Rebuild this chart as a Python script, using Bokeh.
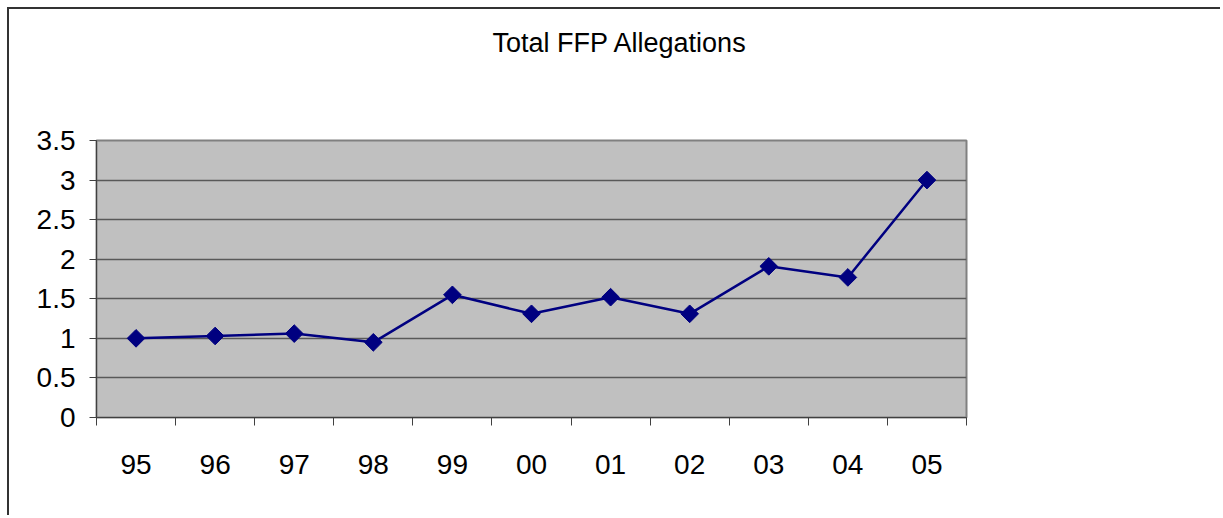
from bokeh.plotting import figure
from bokeh.models import FixedTicker, Title
from bokeh.embed import file_html
from bokeh.resources import INLINE

years = ["95", "96", "97", "98", "99", "00", "01", "02", "03", "04", "05"]
allegations = [1.0, 1.03, 1.06, 0.95, 1.55, 1.31, 1.52, 1.31, 1.91, 1.77, 3.0]
y_ticks = [0, 0.5, 1, 1.5, 2, 2.5, 3, 3.5]
title_text = "Total FFP Allegations"

xs = list(range(len(years)))
FONT = "Liberation Sans"

p = figure(width=1213, height=508, output_backend="svg", toolbar_location=None,
           x_range=(-0.5, len(years) - 0.5), y_range=(0, 3.5),
           min_border_left=87, min_border_right=256, min_border_top=131, min_border_bottom=100,
           title=title_text)
p.styles = {"border-left": "2px solid #333333", "border-top": "2px solid #333333",
            "margin-left": "7px", "margin-top": "7px"}

p.title.align = "left"
p.title.offset = 396
p.title.standoff = 10
p.title.vertical_align = "top"
p.title.text_font = FONT
p.title.text_font_size = "27px"
p.title.text_font_style = "normal"
p.title.text_color = "black"

# blank spacer between the title and the plot area
p.add_layout(Title(text="\u00a0", standoff=44, text_font=FONT, text_font_size="27px"), "above")

p.background_fill_color = "#C0C0C0"
p.border_fill_color = "white"
p.outline_line_color = "#808080"
p.outline_line_width = 2

# x axis: labels at centers, ticks at category boundaries
p.xaxis.ticker = FixedTicker(ticks=xs, minor_ticks=[i - 0.5 for i in range(len(years) + 1)])
p.xaxis.major_label_overrides = {i: y for i, y in enumerate(years)}
p.xaxis.major_tick_out = 0
p.xaxis.major_tick_in = 0
p.xaxis.minor_tick_out = 8
p.xaxis.minor_tick_in = 0
p.xaxis.minor_tick_line_color = "#404040"
p.xaxis.axis_line_color = "#404040"
p.xaxis.major_label_standoff = 29
p.xaxis.major_label_text_font = FONT
p.xaxis.major_label_text_font_size = "28px"
p.xaxis.major_label_text_color = "black"

p.yaxis.ticker = FixedTicker(ticks=y_ticks)
p.yaxis.minor_tick_line_color = None
p.yaxis.major_tick_out = 7
p.yaxis.major_tick_in = 0
p.yaxis.major_tick_line_color = "#404040"
p.yaxis.axis_line_color = "#404040"
p.yaxis.major_label_standoff = 14
p.yaxis.major_label_text_font = FONT
p.yaxis.major_label_text_font_size = "28px"
p.yaxis.major_label_text_color = "black"

p.xgrid.grid_line_color = None
p.ygrid.grid_line_color = "#595959"
p.ygrid.grid_line_width = 1.5

p.line(xs, allegations, line_color="#000080", line_width=2.5)
p.scatter(xs, allegations, marker="square", angle=0.785398, size=12.5,
          fill_color="#000080", line_color="#000080")

open("out.html", "w").write(file_html(p, INLINE))
